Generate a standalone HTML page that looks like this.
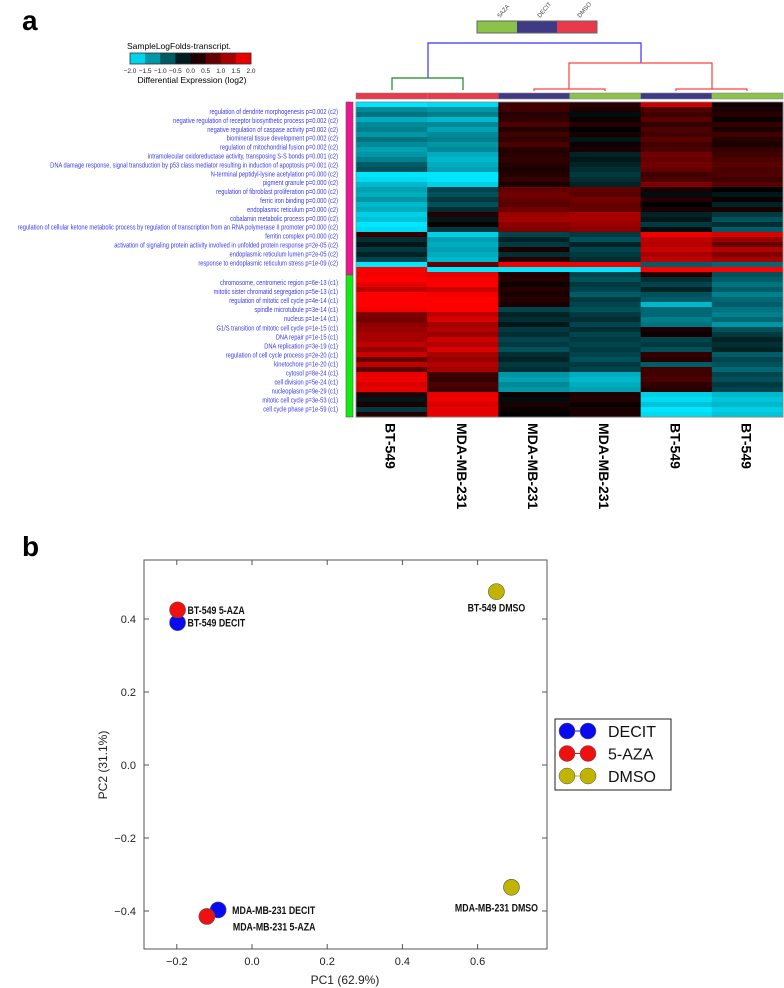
<!DOCTYPE html>
<html><head><meta charset="utf-8"><style>
html,body{margin:0;padding:0;background:#fff;width:784px;height:988px;overflow:hidden}
svg text{font-family:"Liberation Sans",sans-serif}
</style></head><body>
<svg id="fig" width="784" height="988" viewBox="0 0 784 988" xmlns="http://www.w3.org/2000/svg">
<text x="22" y="30" font-size="28" font-weight="bold">a</text>
<text x="22" y="556" font-size="28" font-weight="bold">b</text>
<g id="cbar">
<text x="127" y="49" font-size="8.5">SampleLogFolds-transcript.</text>
<text x="192" y="83" font-size="8.5" text-anchor="middle">Differential Expression (log2)</text>
</g>
<g>
<rect x="477" y="21" width="40" height="12" fill="#8bc34a"/>
<rect x="517" y="21" width="40" height="12" fill="#3e3a86"/>
<rect x="557" y="21" width="40" height="12" fill="#e83a4a"/>
<rect x="477" y="21" width="120" height="12" fill="none" stroke="#666" stroke-width="1"/>
<text transform="translate(500,18) rotate(-50)" font-size="6" fill="#444">5AZA</text>
<text transform="translate(540,18) rotate(-50)" font-size="6" fill="#444">DECIT</text>
<text transform="translate(580,18) rotate(-50)" font-size="6" fill="#444">DMSO</text>
</g>
<g fill="none" stroke-width="1.2">
<polyline points="428,78 428,43 641,43 641,63" stroke="#3535ff"/>
<polyline points="392,90 392,78 463,78 463,90" stroke="#1a8a1a"/>
<polyline points="569,89 569,63 712,63 712,89" stroke="#ff4040"/>
<polyline points="534,91 534,89 605,89 605,91" stroke="#ff4040"/>
<polyline points="676,91 676,89 747,89 747,91" stroke="#ff4040"/>
</g>
<g id="heat"></g>
<rect x="346" y="102" width="7" height="173" fill="#ee1590" stroke="#555" stroke-width="0.6"/>
<rect x="346" y="275" width="7" height="142" fill="#10ee10" stroke="#555" stroke-width="0.6"/>
<g id="terms"></g>
<g id="pca"></g>
</svg>
<script>
const NS="http://www.w3.org/2000/svg";
function mk(tag,attrs,parent,txt){const e=document.createElementNS(NS,tag);for(const k in attrs)e.setAttribute(k,attrs[k]);if(txt!==undefined)e.textContent=txt;parent.appendChild(e);return e;}

// ---------- Heatmap data ----------
const sampleLabels=["BT-549","MDA-MB-231","MDA-MB-231","MDA-MB-231","BT-549","BT-549"];
const sampleGroups=["DMSO","DMSO","DECIT","5AZA","DECIT","5AZA"];
const heatRows=[
[-2,-1.9,0.5,0.3,1.6,0.1],[-1.2,-1.3,0.5,0.2,0.6,0.2],[-1.0,-1.1,0.3,-0.1,0.5,0.3],[-1.5,-1.6,0.4,0.1,0.7,0.1],
[-1.2,-1.2,0.6,0.3,0.4,0.4],[-1.1,-1.4,0.3,0.0,0.6,0.2],[-1.3,-1.2,0.5,0.2,0.5,0.5],[-1.0,-1.1,0.4,-0.2,0.7,0.3],
[-1.2,-1.3,0.6,0.1,0.5,0.2],[-1.4,-1.2,0.3,0.2,0.6,0.4],[-1.3,-1.5,0.3,-0.3,0.9,0.5],[-1.1,-1.6,0.4,-0.2,0.8,0.6],
[-0.8,-1.5,0.3,-0.3,0.9,0.7],[-0.7,-1.4,0.2,-0.4,0.8,0.6],[-2,-2,0.3,-0.5,0.5,0.6],[-1.9,-2,0.4,-0.4,0.6,0.5],
[-1.6,-1.8,0.2,-0.3,1.0,0.7],[-1.4,-0.6,0.8,0.8,0.2,0.0],[-1.5,-0.7,0.9,0.7,-0.1,-0.2],[-1.3,-0.5,0.8,0.9,0.3,0.1],
[-1.6,-0.7,0.7,0.8,0.0,-0.3],[-1.5,-0.4,0.9,0.8,0.2,0.2],[-1.8,0.3,1.2,1.3,-0.3,-0.5],[-1.7,-0.2,1.3,1.3,-0.2,-0.7],
[-2,0.1,1.1,1.2,-0.5,-0.4],[-1.9,-0.5,1.0,1.1,-0.1,-0.8],[0.4,-1.8,-0.6,-0.5,1.9,1.7],[-0.4,-1.4,-0.3,-0.7,1.5,1.2],
[-0.2,-1.5,-0.5,-0.3,1.4,0.8],[-0.5,-1.4,0.2,-0.6,1.6,1.4],[-0.3,-1.5,-0.4,-0.5,1.3,1.0],[-0.6,-1.6,0.3,-0.4,1.5,1.3],
[-2,0.8,1.9,1.9,-0.8,-0.9],[2,-2,-2,-2,2,2],[1.9,1.8,0.2,-0.6,0.3,-0.7],[2,1.9,0.3,-0.7,-0.4,-0.8],
[1.8,2,0.1,-0.5,-0.6,-1.0],[1.5,1.6,0.3,-0.6,-0.3,-0.8],[2,1.9,0.2,-0.8,-0.7,-1.1],[2,2,0.3,-0.5,-0.8,-0.9],
[2,2,0.2,-0.6,-1.6,-0.8],[1.9,2,-0.6,-0.7,-0.9,-1.0],[1.0,1.5,-0.3,-0.5,-0.9,-1.1],[0.9,1.7,-0.4,-0.4,-1.1,-0.9],
[1.1,1.3,-0.2,-0.6,-1.0,-1.3],[1.2,1.4,-0.5,-0.4,0.2,-0.7],[1.3,1.2,-0.4,-0.6,0.1,-0.5],[1.3,1.6,-0.6,-0.5,-0.6,-0.3],
[1.5,1.4,-0.5,-0.6,-0.5,-0.4],[1.2,1.7,-0.7,-0.5,-0.7,-0.3],[1.6,1.3,-0.4,-0.6,0.4,-0.8],[0.8,1.2,-0.3,-0.7,0.3,-0.6],
[1.5,1.4,-0.5,-0.5,-0.8,-0.7],[0.7,1.3,-0.4,-0.6,0.5,-0.9],[1.8,0.5,-1.3,-1.5,0.5,-0.6],[1.9,0.4,-1.4,-1.6,0.6,-0.7],
[1.7,0.6,-1.2,-1.5,0.4,-0.5],[1.8,0.5,-1.3,-1.4,0.3,-0.6],[0.3,1.8,0.1,0.2,-1.8,-1.6],[-0.2,1.9,-0.1,0.3,-1.9,-1.7],
[0.2,1.7,0.2,0.1,-1.7,-1.6],[-0.5,1.8,0.1,0.2,-2,-1.8],[0.3,1.8,0.0,0.2,-1.9,-1.7]
];
const colorTicks=["-2.0","-1.5","-1.0","-0.5","0.0","0.5","1.0","1.5","2.0"];
const c2Terms=["regulation of dendrite morphogenesis p=0.002 (c2)","negative regulation of receptor biosynthetic process p=0.002 (c2)","negative regulation of caspase activity p=0.002 (c2)","biomineral tissue development p=0.002 (c2)","regulation of mitochondrial fusion p=0.002 (c2)","intramolecular oxidoreductase activity, transposing S-S bonds p=0.001 (c2)","DNA damage response, signal transduction by p53 class mediator resulting in induction of apoptosis p=0.001 (c2)","N-terminal peptidyl-lysine acetylation p=0.000 (c2)","pigment granule p=0.000 (c2)","regulation of fibroblast proliferation p=0.000 (c2)","ferric iron binding p=0.000 (c2)","endoplasmic reticulum p=0.000 (c2)","cobalamin metabolic process p=0.000 (c2)","regulation of cellular ketone metabolic process by regulation of transcription from an RNA polymerase II promoter p=0.000 (c2)","ferritin complex p=0.000 (c2)","activation of signaling protein activity involved in unfolded protein response p=2e-05 (c2)","endoplasmic reticulum lumen p=2e-05 (c2)","response to endoplasmic reticulum stress p=1e-09 (c2)"];
const c1Terms=["chromosome, centromeric region p=6e-13 (c1)","mitotic sister chromatid segregation p=5e-13 (c1)","regulation of mitotic cell cycle p=4e-14 (c1)","spindle microtubule p=3e-14 (c1)","nucleus p=1e-14 (c1)","G1/S transition of mitotic cell cycle p=1e-15 (c1)","DNA repair p=1e-15 (c1)","DNA replication p=3e-19 (c1)","regulation of cell cycle process p=2e-20 (c1)","kinetochore p=1e-20 (c1)","cytosol p=8e-24 (c1)","cell division p=5e-24 (c1)","nucleoplasm p=9e-29 (c1)","mitotic cell cycle p=3e-53 (c1)","cell cycle phase p=1e-59 (c1)"];

// ---------- PCA data ----------
const pcaLabels=["BT-549 5-AZA","BT-549 DECIT","BT-549 DMSO","MDA-MB-231 DECIT","MDA-MB-231 5-AZA","MDA-MB-231 DMSO"];
const pcaGroup=["5-AZA","DECIT","DMSO","DECIT","5-AZA","DMSO"];
const pc1=[-0.198,-0.198,0.65,-0.09,-0.12,0.69];
const pc2=[0.425,0.39,0.475,-0.397,-0.415,-0.335];
const xTicks=[-0.2,0.0,0.2,0.4,0.6];
const yTicks=[-0.4,-0.2,0.0,0.2,0.4];
const legendNames=["DECIT","5-AZA","DMSO"];

function heatColor(v){const t=Math.max(-2,Math.min(2,v))/2;
 if(t>=0)return `rgb(${Math.round(255*t)},0,0)`;
 const s=-t;return `rgb(0,${Math.round(230*s)},${Math.round(255*s)})`;}
const groupColor={"DMSO":"#e83a4a","DECIT":"#3e3a86","5AZA":"#8bc34a"};

// heatmap
const heat=document.getElementById('heat');
const HX=356,HY=102,HW=427,HH=315,nC=sampleLabels.length,nR=heatRows.length;
const cw=HW/nC,rh=HH/nR;
const colX=i=>HX+i*cw, rowY=j=>HY+j*rh;
heatRows.forEach((row,j)=>row.forEach((v,i)=>{
 const r=mk('rect',{x:colX(i).toFixed(2),y:rowY(j).toFixed(2),width:(cw+0.4).toFixed(2),height:(rh+0.4).toFixed(2),fill:heatColor(v)},heat);
 
 
}));
mk('rect',{x:HX,y:HY,width:HW,height:HH,fill:'none',stroke:'#888','stroke-width':0.8},heat);
sampleGroups.forEach((g,i)=>{
 const r=mk('rect',{x:colX(i),y:93,width:cw,height:6,fill:groupColor[g]},heat);
 
 
});
mk('rect',{x:HX,y:93,width:HW,height:6,fill:'none',stroke:'#888','stroke-width':0.6},heat);
sampleLabels.forEach((s,i)=>{
 const cx=colX(i)+cw/2-6;
 const t=mk('text',{transform:`translate(${cx},${HY+HH+6}) rotate(90)`,'font-size':14,'font-weight':'bold'},heat,s);
 
 
});

// color bar
const cb=document.getElementById('cbar');
const CBX=130,CBW=121;
for(let k=0;k<8;k++){
 const v=-2+k*0.5+0.25;
 const r=mk('rect',{x:CBX+k*CBW/8,y:53,width:CBW/8+0.3,height:11,fill:heatColor(v*1.05)},cb);
 
 
}
mk('rect',{x:CBX,y:53,width:CBW,height:11,fill:'none',stroke:'#333','stroke-width':0.8},cb);
colorTicks.forEach((t,k)=>{
 const e=mk('text',{x:CBX+k*CBW/8,y:73,'font-size':6.5,'text-anchor':'middle',fill:'#222'},cb,t.replace('-','\u2212'));
 
 
});

// GO term labels
const terms=document.getElementById('terms');
function termRow(list,y0,dy){list.forEach((s,i)=>{
 const t=mk('text',{transform:`translate(338,${(y0+i*dy).toFixed(1)}) scale(0.82,1)`,'font-size':7,'text-anchor':'end',fill:'#3a3af0'},terms,s);
 
 
});}
termRow(c2Terms,114,8.9);
termRow(c1Terms,285,9.05);

// PCA
const pca=document.getElementById('pca');
const PL=144,PR=547,PT=560,PB=949;
const xs=v=>252+(v/0.2)*75.2;
const ys=v=>765-(v/0.2)*73;
mk('rect',{x:PL,y:PT,width:PR-PL,height:PB-PT,fill:'none',stroke:'#555','stroke-width':1},pca);
xTicks.forEach(v=>{
 mk('line',{x1:xs(v),x2:xs(v),y1:PB,y2:PB-5,stroke:'#555'},pca);
 mk('line',{x1:xs(v),x2:xs(v),y1:PT,y2:PT+5,stroke:'#555'},pca);
 const t=mk('text',{x:xs(v),y:PB+16,'font-size':11,'text-anchor':'middle',fill:'#222'},pca,v.toFixed(1).replace('-','\u2212'));
 
 
});
yTicks.forEach(v=>{
 mk('line',{x1:PL,x2:PL+5,y1:ys(v),y2:ys(v),stroke:'#555'},pca);
 mk('line',{x1:PR,x2:PR-5,y1:ys(v),y2:ys(v),stroke:'#555'},pca);
 const t=mk('text',{x:PL-8,y:ys(v)+4,'font-size':11,'text-anchor':'end',fill:'#222'},pca,v.toFixed(1).replace('-','\u2212'));
 
 
});
const xt=mk('text',{x:345,y:984,'font-size':12,'text-anchor':'middle',fill:'#222'},pca,'PC1 (62.9%)');


const yt=mk('text',{transform:'translate(107,765) rotate(-90)','font-size':12,'text-anchor':'middle',fill:'#222'},pca,'PC2 (31.1%)');


const ptColor={"DECIT":"#0a0af0","5-AZA":"#f01010","DMSO":"#c0b400"};
const order=[1,0,2,3,4,5];
order.forEach(i=>{
 const c=mk('circle',{cx:xs(pc1[i]),cy:ys(pc2[i]),r:8,fill:ptColor[pcaGroup[i]],stroke:'#555','stroke-width':0.6},pca);
 
 
});
// point labels
const lblPos=[[10,4,'start'],[10,4,'start'],[0,20,'middle'],[14,4,'start'],[26,14,'start'],[-15,24,'middle']];
pcaLabels.forEach((s,i)=>{
 const p=lblPos[i];
 const t=mk('text',{transform:`translate(${xs(pc1[i])+p[0]},${ys(pc2[i])+p[1]}) scale(0.8,1)`,'font-size':11,'font-weight':'bold','text-anchor':p[2],fill:'#111'},pca,s);
 
 
});
// legend
const lg=mk('g',{},pca);


mk('rect',{x:555,y:719,width:116,height:71,fill:'#fff',stroke:'#222','stroke-width':1},lg);
legendNames.forEach((n,k)=>{
 const y=731+k*22.5;
 mk('line',{x1:567,x2:588,y1:y,y2:y,stroke:ptColor[n],'stroke-width':1},lg);
 mk('circle',{cx:567,cy:y,r:8,fill:ptColor[n],stroke:'#555','stroke-width':0.5},lg);
 mk('circle',{cx:588,cy:y,r:8,fill:ptColor[n],stroke:'#555','stroke-width':0.5},lg);
 const t=mk('text',{x:608,y:y+6,'font-size':16,fill:'#111'},lg,n);
 
 
});
</script>
</body></html>
